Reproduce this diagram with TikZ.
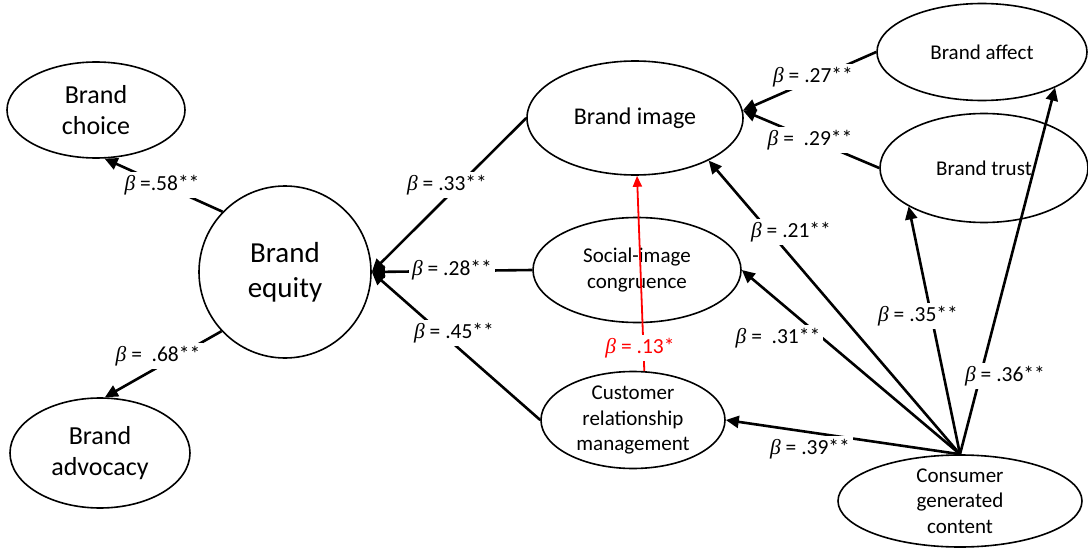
\documentclass[tikz,border=0pt]{standalone}
\usepackage{fontspec}
\setmainfont{Carlito}
\newfontfamily\betafont{Liberation Serif}
\newcommand{\bta}{{\betafont\itshape β}}
\usetikzlibrary{arrows.meta,shapes.geometric}

\begin{document}
\begin{tikzpicture}[x=1pt, y=-1pt,
    var/.style={draw, ellipse, line width=1.6pt, align=center, inner sep=0pt,
      font=\fontsize{21}{25.5}\selectfont},
    link/.style={line width=2.6pt, -{Triangle[length=13pt,width=12pt]}},
    lbl/.style={fill=white, inner sep=3pt, font=\fontsize{21.5}{24}\selectfont}]
  \useasboundingbox (0,0) rectangle (1088,551);

  % Outcomes of brand equity
  \node[var, minimum width=178, minimum height=96, font=\fontsize{26}{31}\selectfont] (choice) at (96,110) {Brand\\choice};
  \node[var, circle, minimum size=172, font=\fontsize{29}{35}\selectfont] (equity) at (285,272) {Brand\\equity};
  \node[var, minimum width=180, minimum height=110, font=\fontsize{26}{31}\selectfont] (advocacy) at (100,453) {Brand\\advocacy};

  % Mediators
  \node[var, minimum width=216, minimum height=114, font=\fontsize{24}{28}\selectfont] (image) at (635,118) {Brand image};
  \node[var, minimum width=208, minimum height=105] (social) at (637,270) {Social-image\\congruence};
  \node[var, minimum width=184, minimum height=97] (crm) at (633,420) {Customer\\relationship\\management};

  % Right hand side
  \node[var, minimum width=210, minimum height=97] (affect) at (982,52) {Brand affect};
  \node[var, minimum width=208, minimum height=109] (trust) at (984,168) {Brand trust};
  \node[var, minimum width=244, minimum height=92] (cgc) at (960,501) {Consumer\\generated\\content};

  % Paths
  \draw[link] (equity.136) -- (choice.-80);
  \draw[link] (equity.223) -- (advocacy.85);
  \draw[link] (image.west) -- (equity.east);
  \draw[link] (social.west) -- (equity.east);
  \draw[link] (crm.west) -- (equity.east);
  \draw[link, red, line width=1.8pt, -{Triangle[length=11pt,width=9pt]}] (crm.77) -- (image.-88);
  \draw[link] (affect.west) -- (image.4);
  \draw[link] (trust.west) -- (image.4);
  \draw[link] (cgc.north) -- (image.-30);
  \draw[link] (cgc.north) -- (social.east);
  \draw[link] (cgc.north) -- (crm.east);
  \draw[link] (cgc.north) -- (trust.207);
  \draw[link] (cgc.north) -- (affect.-26);

  % Coefficients
  \node[lbl] (b58) at (162,185) {\bta{} =.58**};
  \node[lbl] (b68) at (158,356) {\bta{} =\ \ .68**};
  \node[lbl] (b33) at (447,185) {\bta{} = .33**};
  \node[lbl] (b28) at (452,270) {\bta{} = .28**};
  \node[lbl] (b45) at (454,333) {\bta{} = .45**};
  \node[lbl, text=red] (b13) at (640,348) {\bta{} = .13*};
  \node[lbl] (b27) at (813,77) {\bta{} = .27**};
  \node[lbl] (b29) at (810,140) {\bta{} =\ \ .29**};
  \node[lbl] (b21) at (791,232) {\bta{} = .21**};
  \node[lbl] (b31) at (778,338) {\bta{} =\ \ .31**};
  \node[lbl] (b39) at (810,449) {\bta{} = .39**};
  \node[lbl] (b35) at (918,316) {\bta{} = .35**};
  \node[lbl] (b36) at (1005,376) {\bta{} = .36**};
\end{tikzpicture}
\end{document}
